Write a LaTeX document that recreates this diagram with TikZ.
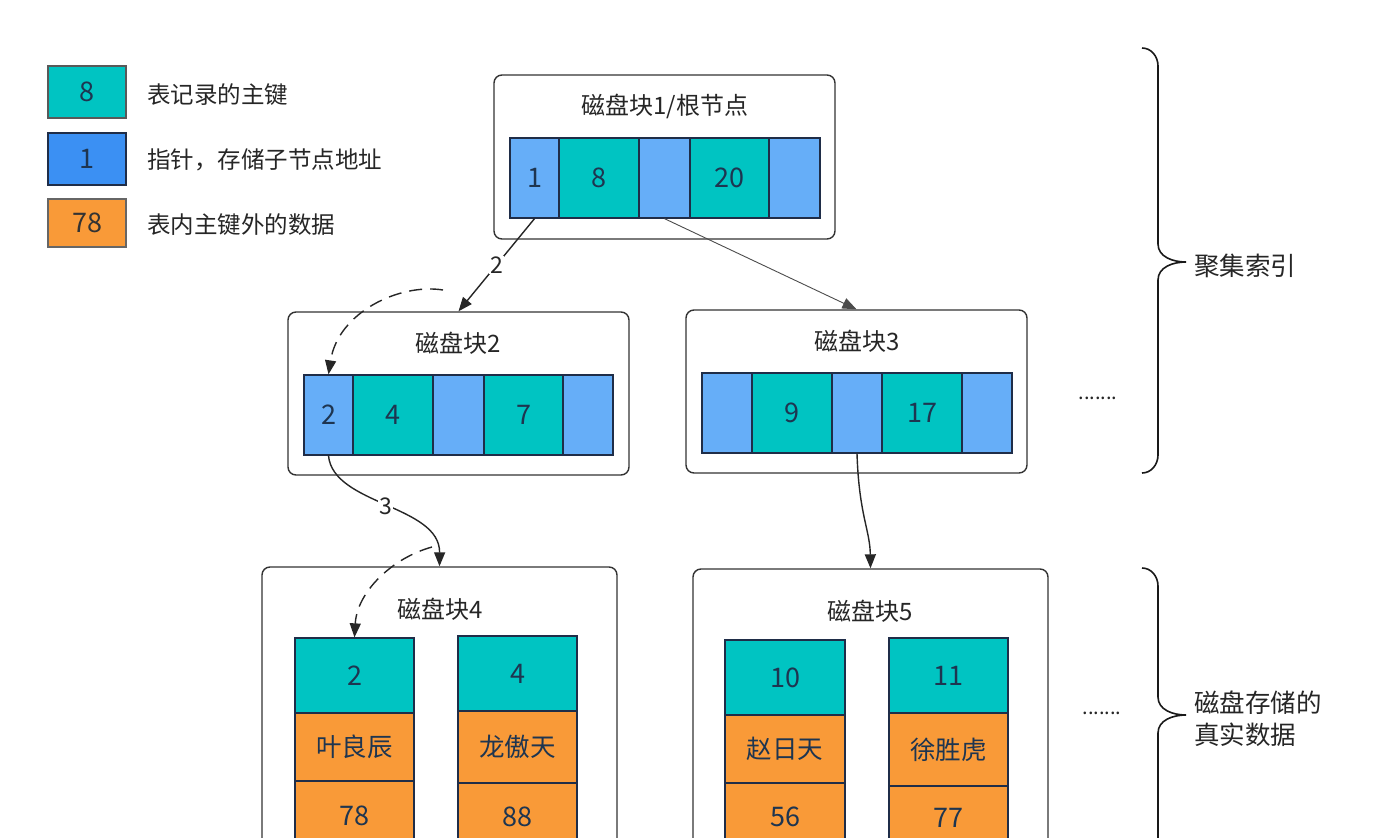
\documentclass[tikz,border=0pt]{standalone}
\usepackage{fontspec}
\setmainfont{Noto Sans CJK SC}
\usetikzlibrary{arrows.meta}
\definecolor{teal1}{HTML}{00C4C2}
\definecolor{ptr}{HTML}{66AEF8}
\definecolor{ptrlg}{HTML}{3B90F3}
\definecolor{orng}{HTML}{F99A38}
\definecolor{cellline}{HTML}{1F2D48}
\definecolor{numtxt}{HTML}{1E3550}
\definecolor{boxline}{HTML}{333333}
\tikzset{
  cellbox/.style={draw=cellline, line width=1.3pt, inner sep=0pt, minimum height=80pt, text=numtxt, font=\fontsize{27}{30}\selectfont},
  tcell/.style={cellbox, fill=teal1},
  pcell/.style={cellbox, fill=ptr},
  ocell/.style={cellbox, fill=orng},
  blockbox/.style={draw=boxline, line width=1.4pt, rounded corners=8pt, fill=white, inner sep=0pt},
  titletxt/.style={font=\fontsize{24}{27}\selectfont, text=black!85},
  lgtxt/.style={font=\fontsize{23.5}{26}\selectfont, text=black!85, anchor=west, inner sep=0pt},
  conn/.style={draw=black!85, line width=1.4pt, -{Triangle[length=14pt,width=11pt]}},
  thinconn/.style={draw=black!70, line width=0.9pt, -{Triangle[length=14pt,width=11pt]}},
  dconn/.style={conn, dash pattern=on 13pt off 8pt},
  brace/.style={draw=black!90, line width=1.6pt},
  numlbl/.style={fill=white, inner sep=1pt, font=\fontsize{23}{25}\selectfont, text=black!85},
  dots/.style={font=\fontsize{20}{20}\selectfont, text=black!85},
  cjkcell/.style={font=\fontsize{25.5}{28}\selectfont}
}
\begin{document}
\begin{tikzpicture}[x=1pt,y=-1pt]
\useasboundingbox (0,0) rectangle (1390,838);
\clip (0,0) rectangle (1390,838);
\fill[white] (0,0) rectangle (1390,838);

% legend
\node[tcell, minimum width=78pt, minimum height=52pt, draw=black!65] (lg1) at (87,92) {8};
\node[cellbox, fill=ptrlg, minimum width=78pt, minimum height=52pt, draw=cellline] (lg2) at (87,159) {1};
\node[ocell, minimum width=78pt, minimum height=48pt, draw=black!60, text=black!80] (lg3) at (87,223) {78};
\node[lgtxt] (lt1) at (147,95) {表记录的主键};
\node[lgtxt] (lt2) at (147,160) {指针，存储子节点地址};
\node[lgtxt] (lt3) at (147,225) {表内主键外的数据};

% block 1
\node[blockbox, minimum width=341pt, minimum height=164pt] (blk1) at (664.5,157) {};
\node[titletxt] (t1) at (665,106) {磁盘块1/根节点};
\node[pcell, minimum width=49pt] (r1) at (534.5,178) {1};
\node[tcell, minimum width=80pt] (r2) at (599,178) {8};
\node[pcell, minimum width=51pt] (r3) at (664.5,178) {};
\node[tcell, minimum width=79pt] (r4) at (729.5,178) {20};
\node[pcell, minimum width=51pt] (r5) at (794.5,178) {};

% block 2
\node[blockbox, minimum width=341pt, minimum height=163pt] (blk2) at (458.5,393.5) {};
\node[titletxt] (t2) at (458,343) {磁盘块2};
\node[pcell, minimum width=49pt] (b1) at (328.5,415) {2};
\node[tcell, minimum width=80pt] (b2) at (393,415) {4};
\node[pcell, minimum width=51pt] (b3) at (458.5,415) {};
\node[tcell, minimum width=79pt] (b4) at (523.5,415) {7};
\node[pcell, minimum width=50pt] (b5) at (588,415) {};

% block 3
\node[blockbox, minimum width=341pt, minimum height=163pt] (blk3) at (856.5,391.5) {};
\node[titletxt] (t3) at (857,341) {磁盘块3};
\node[pcell, minimum width=50pt] (c1) at (727,413) {};
\node[tcell, minimum width=80pt] (c2) at (792,413) {9};
\node[pcell, minimum width=50pt] (c3) at (857,413) {};
\node[tcell, minimum width=80pt] (c4) at (922,413) {17};
\node[pcell, minimum width=50pt] (c5) at (987,413) {};

\node[dots] (dd1) at (1098,398) {.......};

% block 4
\node[blockbox, minimum width=355pt, minimum height=303pt] (blk4) at (439.5,718.5) {};
\node[titletxt] (t4) at (440,609) {磁盘块4};
\node[tcell, minimum width=119pt, minimum height=75pt] (d1) at (354.5,675.5) {2};
\node[ocell, minimum width=119pt, minimum height=68pt, cjkcell] (d2) at (354.5,747) {叶良辰};
\node[ocell, minimum width=119pt, minimum height=69pt] (d3) at (354.5,815.5) {78};
\node[tcell, minimum width=119pt, minimum height=75pt] (e1) at (517.5,673.5) {4};
\node[ocell, minimum width=119pt, minimum height=72pt, cjkcell] (e2) at (517.5,747) {龙傲天};
\node[ocell, minimum width=119pt, minimum height=67pt] (e3) at (517.5,816.5) {88};

% block 5
\node[blockbox, minimum width=355pt, minimum height=301pt] (blk5) at (870.5,719.5) {};
\node[titletxt] (t5) at (870,611) {磁盘块5};
\node[tcell, minimum width=120pt, minimum height=75pt] (f1) at (785,677.5) {10};
\node[ocell, minimum width=120pt, minimum height=68pt, cjkcell] (f2) at (785,749) {赵日天};
\node[ocell, minimum width=120pt, minimum height=67pt] (f3) at (785,816.5) {56};
\node[tcell, minimum width=119pt, minimum height=75pt] (g1) at (948.5,675.5) {11};
\node[ocell, minimum width=119pt, minimum height=73pt, cjkcell] (g2) at (948.5,749.5) {徐胜虎};
\node[ocell, minimum width=119pt, minimum height=64pt] (g3) at (948.5,818) {77};

\node[dots] (dd2) at (1102,713) {.......};

% connectors
\draw[conn] (r1.south) -- node[numlbl, pos=0.5] {2} (blk2.north);
\draw[thinconn] (r3.south) -- (blk3.north);
\coordinate (ds1) at (443,290);
\draw[dconn] (ds1) .. controls (400,283) and (338,312) .. (b1.north);
\draw[conn] (b1.south) .. controls (333,505) and (440,505) .. node[numlbl, pos=0.5] {3} (blk4.north);
\coordinate (ds2) at (432,547);
\draw[dconn] (ds2) .. controls (392,558) and (357,592) .. (d1.north);
\draw[conn] (c3.south) .. controls (859,515) and (870,530) .. (blk5.north);

% braces
\draw[brace] (1142,48) to[out=0,in=90] (1158,66) -- (1158,244) to[out=-90,in=180] (1186,262)
  to[out=180,in=90] (1158,280) -- (1158,455) to[out=-90,in=0] (1142,473);
\draw[brace] (1142,568) to[out=0,in=90] (1158,586) -- (1158,697) to[out=-90,in=180] (1186,715)
  to[out=180,in=90] (1158,733) -- (1158,860);
\node[lgtxt, font=\fontsize{25.5}{28}\selectfont] (br1) at (1194,266) {聚集索引};
\node[lgtxt, font=\fontsize{25.5}{32}\selectfont, align=left] (br2) at (1194,719) {磁盘存储的\\真实数据};
\end{tikzpicture}
\end{document}
